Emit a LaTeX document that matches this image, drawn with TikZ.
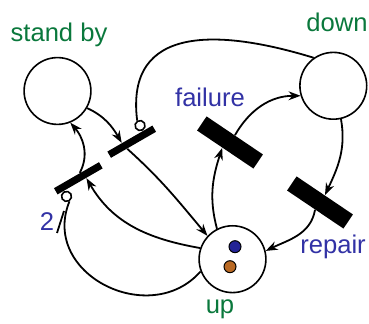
\documentclass[tikz,border=0pt]{standalone}
\usepackage{fontspec}
\setmainfont{Liberation Sans}
\usetikzlibrary{arrows.meta,calc}
\definecolor{placegreen}{RGB}{10,120,60}
\definecolor{transblue}{RGB}{50,50,165}
\definecolor{tokblue}{RGB}{35,35,150}
\definecolor{tokorange}{RGB}{185,105,35}

\begin{document}
\begin{tikzpicture}[x=0.5pt,y=0.5pt,
  place/.style={circle, draw, line width=0.8pt, minimum size=33.4pt, inner sep=0pt},
  trans/.style={fill=black, minimum width=34pt, minimum height=8.5pt, inner sep=0pt, rotate=-34},
  thin/.style={fill=black, minimum width=26pt, minimum height=3.6pt, inner sep=0pt, rotate=30},
  inh/.style={circle, draw, fill=white, line width=0.8pt, minimum size=5pt, inner sep=0pt},
  token/.style={circle, draw=black, line width=0.5pt, minimum size=6pt, inner sep=0pt},
  arc/.style={line width=0.9pt, -{Stealth[length=6pt,width=4.4pt]}},
  inarc/.style={line width=0.9pt},
  pname/.style={text=placegreen, font=\fontsize{12.8}{15}\selectfont},
  tname/.style={text=transblue, font=\fontsize{12.8}{15}\selectfont}]
\useasboundingbox (0,0) rectangle (369,324);

\node[place] (standby) at (57.5,233) {};
\node[place] (down) at (333.3,238.2) {};
\node[place] (up) at (232.5,64.8) {};
\node[token, fill=tokblue] (tok1) at (235,77.3) {};
\node[token, fill=tokorange] (tok2) at (230,57.3) {};

\node[trans] (failure) at (230,181.5) {};
\node[trans] (repair) at (320,121.5) {};
\node[thin] (tin) at (131.7,182.3) {};
\node[thin] (tout) at (78.3,145.7) {};
\node[inh, rotate=30, anchor=south] (inh1) at ($(tin.north)!0.58!(tin.north east)$) {};
\node[inh, rotate=30, anchor=north] (inh2) at ($(tout.south)!0.73!(tout.south west)$) {};

\node[pname] (standbylabel) at (59,289) {stand by};
\node[pname] (downlabel) at (337,302) {down};
\node[pname] (uplabel) at (220,15) {up};
\node[tname] (failurelabel) at (210,227) {failure};
\node[tname] (repairlabel) at (333,77) {repair};
\node[tname] (weight) at (47,102) {2};

\draw[arc] (standby.-30) to[out=-25, in=120] ($(tin.north)!0.35!(tin.north west)$);
\draw[arc] ($(tin.south)!0.28!(tin.south west)$) to[out=-42, in=130] (up.137);
\draw[inarc] (down.125) .. controls (220,295) and (125,300) .. (inh1.north);
\draw[arc] ($(tout.north)!0.15!(tout.north east)$) .. controls (90,170) and (82,188) .. (standby.-68);
\draw[arc] (up.161) to[out=170, in=-60] ($(tout.south)!0.27!(tout.south east)$);
\draw[inarc] (up.201) .. controls (150,-5) and (40,50) .. (inh2.south);
\coordinate (slasha) at (57,91);
\coordinate (slashb) at (64,113);
\draw[inarc] (slasha) -- (slashb);
\draw[arc] (up.117) to[out=105, in=-108] ($(failure.south)!0.1!(failure.south west)$);
\draw[arc] (failure.north) to[out=60, in=180] (down.197);
\draw[arc] (down.-77) to[out=-80, in=65] (repair.north);
\draw[arc] (repair.south) to[out=-100, in=26] (up.14);
\end{tikzpicture}
\end{document}
